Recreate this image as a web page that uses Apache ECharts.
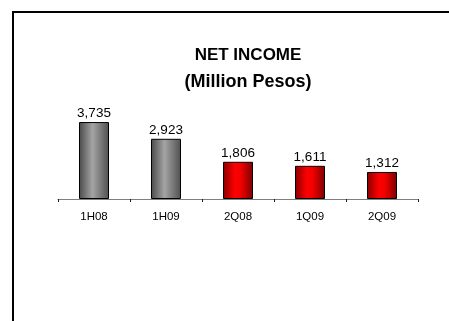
<!DOCTYPE html>
<html>
<head>
<meta charset="utf-8">
<script src="https://cdn.jsdelivr.net/npm/echarts@6/dist/echarts.min.js"></script>
<style>
  html, body { margin: 0; padding: 0; background: #fff; }
  #chart { width: 449px; height: 321px; }
</style>
</head>
<body>
<div id="chart"></div>
<script>
// Net income by period, million pesos
var categories = ['1H08', '1H09', '2Q08', '1Q09', '2Q09'];
var netIncome = [3735, 2923, 1806, 1611, 1312];
// half-year periods in gray, quarters in red
var periodKind = ['half', 'half', 'quarter', 'quarter', 'quarter'];

var FONT = '"Liberation Sans", Arial, sans-serif';

function barGradient(kind) {
  var stops = kind === 'half'
    ? [
        { offset: 0, color: '#4a4a4a' },
        { offset: 0.45, color: '#a4a4a4' },
        { offset: 1, color: '#505050' }
      ]
    : [
        { offset: 0, color: '#8a0000' },
        { offset: 0.4, color: '#ff0000' },
        { offset: 0.6, color: '#f00000' },
        { offset: 1, color: '#7a0000' }
      ];
  return new echarts.graphic.LinearGradient(0, 0, 1, 0, stops);
}

var seriesData = netIncome.map(function (v, i) {
  return {
    value: v,
    itemStyle: {
      color: barGradient(periodKind[i]),
      borderColor: '#000',
      borderWidth: 1
    }
  };
});

var chart = echarts.init(document.getElementById('chart'), null, { renderer: 'canvas' });
chart.setOption({
  animation: false,
  backgroundColor: '#fff',
  title: [
    {
      text: 'NET INCOME',
      left: 248,
      top: 47,
      textAlign: 'center',
      padding: 0,
      textStyle: { fontFamily: FONT, fontSize: 17, fontWeight: 'bold', color: '#000' }
    },
    {
      text: '(Million Pesos)',
      left: 248,
      top: 73,
      textAlign: 'center',
      padding: 0,
      textStyle: { fontFamily: FONT, fontSize: 18, fontWeight: 'bold', color: '#000' }
    }
  ],
  graphic: [
    {
      type: 'polyline',
      shape: { points: [[13, 321], [13, 12], [449, 12]] },
      style: { stroke: '#000', lineWidth: 2, fill: null }
    }
  ],
  grid: { left: 58, right: 31, top: 96, bottom: 122, containLabel: false },
  xAxis: {
    type: 'category',
    data: categories,
    boundaryGap: true,
    axisLine: { show: true, lineStyle: { color: '#7f7f7f', width: 1 } },
    axisTick: { show: true, length: 3, alignWithLabel: false, lineStyle: { color: '#222' } },
    axisLabel: { fontFamily: FONT, fontSize: 11.5, color: '#000', margin: 12 }
  },
  yAxis: {
    type: 'value',
    min: 0,
    max: 5000,
    show: false,
    splitLine: { show: false }
  },
  series: [
    {
      type: 'bar',
      data: seriesData,
      barWidth: 30,
      label: {
        show: true,
        position: 'top',
        distance: 2,
        fontFamily: FONT,
        fontSize: 13.5,
        color: '#000',
        formatter: function (p) {
          return p.value.toLocaleString('en-US');
        }
      }
    }
  ]
});
</script>
</body>
</html>
